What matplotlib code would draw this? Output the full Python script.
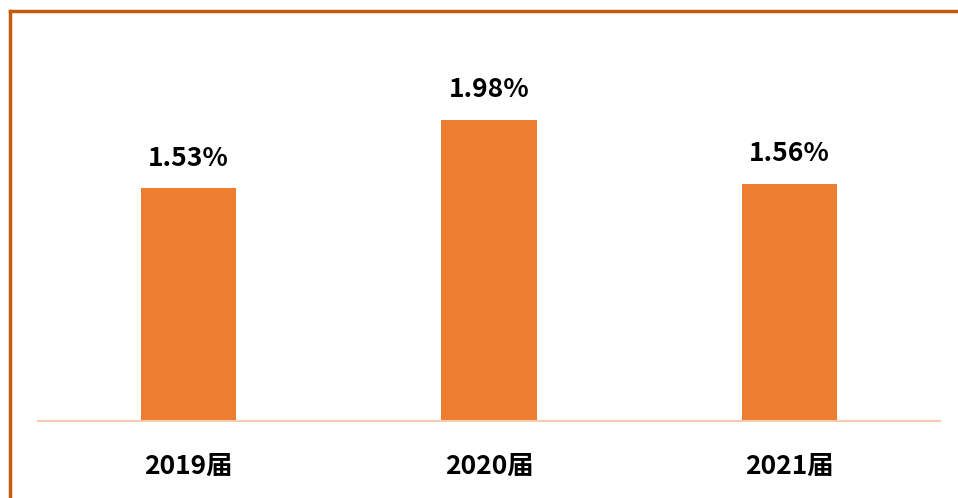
import matplotlib.pyplot as plt
from matplotlib.lines import Line2D

plt.rcParams['font.family'] = ['Noto Sans CJK SC', 'DejaVu Sans']

years = ['2019届', '2020届', '2021届']
rates = [1.53, 1.98, 1.56]

fig = plt.figure(figsize=(9.58, 4.98), dpi=100)
W, H = 958, 498
ax = fig.add_axes([38 / W, (H - 421) / H, 902 / W, 380 / H])

x = range(len(years))
bars = ax.bar(x, rates, width=0.316, color='#ED7D31')
ax.set_xlim(-0.5, 2.5)
ax.set_ylim(0, 2.5)

for b, v in zip(bars, rates):
    ax.annotate('%.2f%%' % v, (b.get_x() + b.get_width() / 2, v),
                xytext=(0, 12), textcoords='offset points',
                ha='center', va='bottom', fontsize=19, fontweight='bold')

ax.set_xticks(list(x))
ax.set_xticklabels(years, fontsize=19, fontweight='bold')
ax.tick_params(axis='x', length=0, pad=23)
ax.set_yticks([])
for s in ['top', 'right', 'left']:
    ax.spines[s].set_visible(False)
ax.spines['bottom'].set_color('#F8CBAD')
ax.spines['bottom'].set_linewidth(1.5)

# outer frame (right and bottom cut off)
fig.add_artist(Line2D([9.5 / W, 9.5 / W], [0, (H - 11) / H], color='#C55A11', lw=2.5, transform=fig.transFigure))
fig.add_artist(Line2D([9.5 / W, 1], [(H - 11) / H, (H - 11) / H], color='#C55A11', lw=2.5, transform=fig.transFigure))

fig.savefig('out.png', dpi=100)
